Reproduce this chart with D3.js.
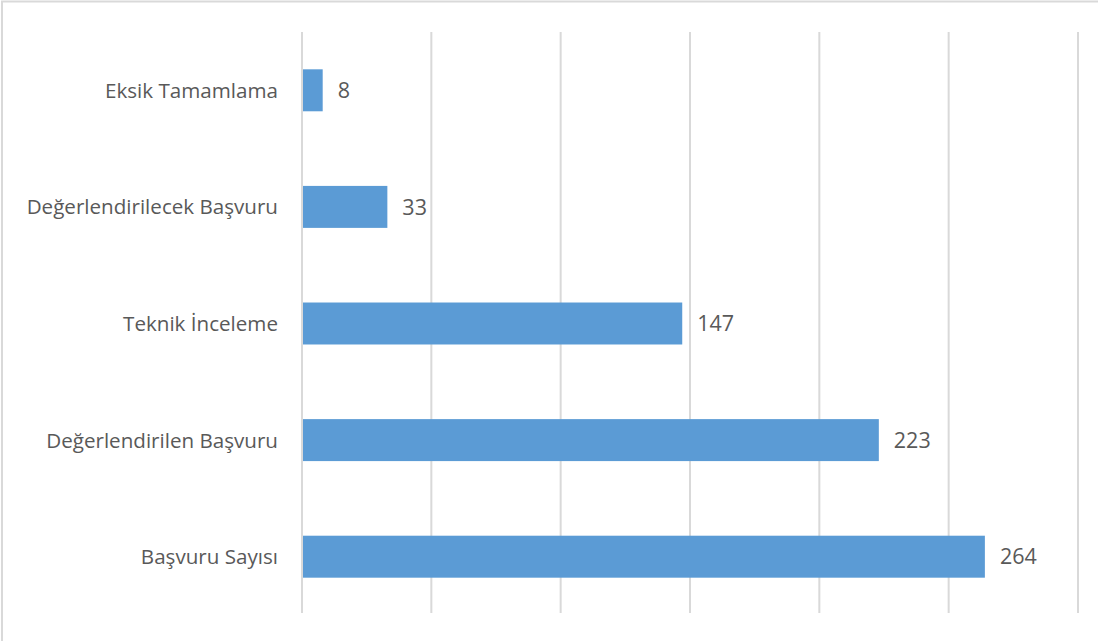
<!DOCTYPE html>
<html>
<head>
<meta charset="utf-8">
<script src="https://cdn.jsdelivr.net/npm/d3@7"></script>
<style>
  body { margin: 0; background: #fff; }
  svg { display: block; }
</style>
</head>
<body>
<div id="chart"></div>
<script>
var categories = ['Eksik Tamamlama', 'Değerlendirilecek Başvuru', 'Teknik İnceleme', 'Değerlendirilen Başvuru', 'Başvuru Sayısı']
var values = [8, 33, 147, 223, 264]
var gridTicks = [0, 50, 100, 150, 200, 250, 300]

var width = 1098
var height = 641
var margin = { left: 302, right: 20, top: 32, bottom: 27 }

var svg = d3.select('#chart').append('svg')
  .attr('width', width)
  .attr('height', height)
  .style('font-family', '"Open Sans", Lato, sans-serif')

// outer chart border (only top and left visible in the crop)
svg.append('rect')
  .attr('x', 2).attr('y', 1.5)
  .attr('width', width + 10).attr('height', height + 10)
  .attr('fill', 'none')
  .attr('stroke', '#d9d9d9')
  .attr('stroke-width', 2)

var x = d3.scaleLinear()
  .domain([0, 300])
  .range([margin.left, 1078])

var y = d3.scaleBand()
  .domain(categories)
  .range([margin.top, height - margin.bottom + 1])
  .paddingInner(0.64)
  .paddingOuter(0.32)

svg.append('g').selectAll('line')
  .data(gridTicks)
  .enter().append('line')
  .attr('x1', function (d) { return x(d) })
  .attr('x2', function (d) { return x(d) })
  .attr('y1', margin.top)
  .attr('y2', height - margin.bottom - 1)
  .attr('stroke', '#d9d9d9')
  .attr('stroke-width', 2)

svg.append('g').selectAll('rect')
  .data(values)
  .enter().append('rect')
  .attr('x', x(0) + 1)
  .attr('y', function (d, i) { return y(categories[i]) })
  .attr('width', function (d) { return x(d) - x(0) - 1 })
  .attr('height', y.bandwidth())
  .attr('fill', '#5b9bd5')

svg.append('g').selectAll('text')
  .data(values)
  .enter().append('text')
  .attr('x', function (d) { return x(d) + 15 })
  .attr('y', function (d, i) { return y(categories[i]) + y.bandwidth() / 2 })
  .attr('dy', '0.36em')
  .attr('fill', '#595959')
  .style('font-size', '21.5px')
  .text(function (d) { return d })

svg.append('g').selectAll('text')
  .data(categories)
  .enter().append('text')
  .attr('x', x(0) - 24)
  .attr('y', function (d) { return y(d) + y.bandwidth() / 2 })
  .attr('dy', '0.36em')
  .attr('text-anchor', 'end')
  .attr('fill', '#595959')
  .style('font-size', '20.6px')
  .text(function (d) { return d })
</script>
</body>
</html>
